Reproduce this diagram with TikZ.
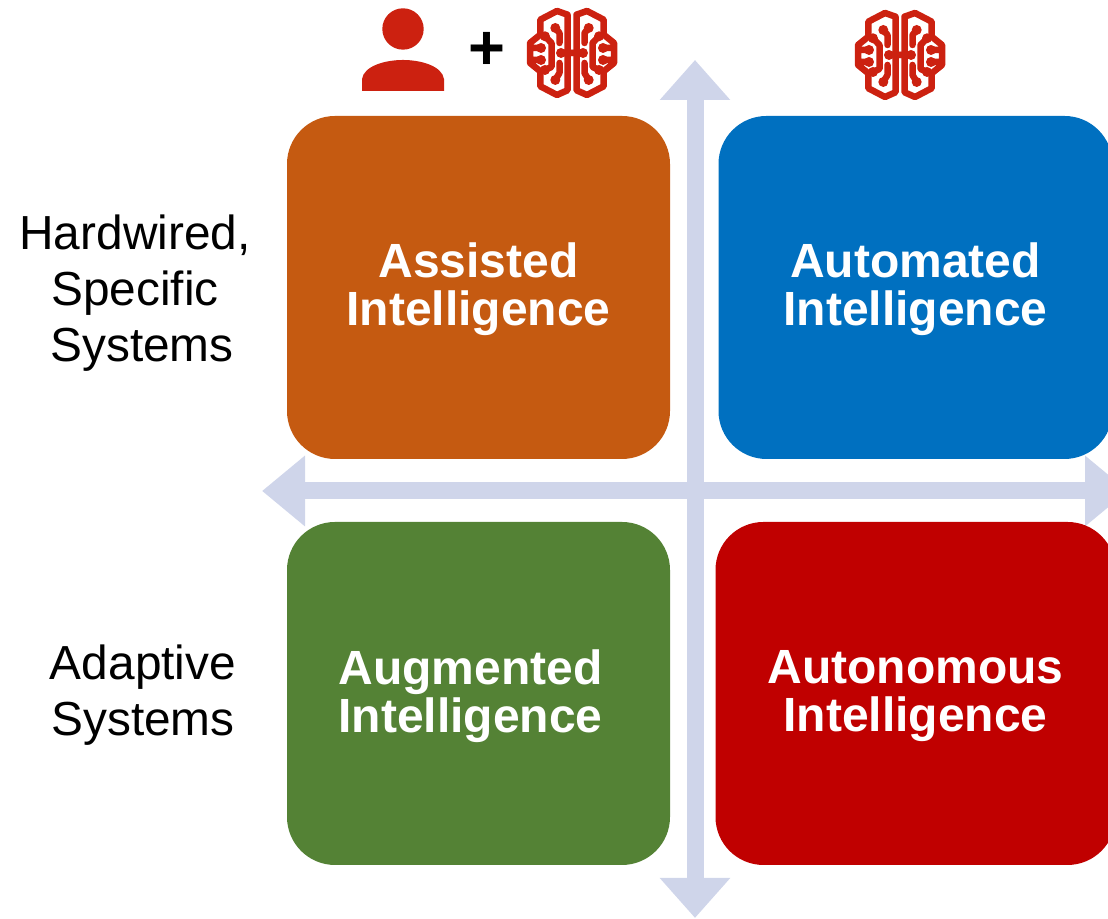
\documentclass[tikz,border=0pt]{standalone}
\usepackage{xcolor}
\usepackage{fontspec}
\setmainfont{Liberation Sans}
\usetikzlibrary{arrows.meta}
\definecolor{assistedcolor}{RGB}{197, 90, 17}
\definecolor{automatedcolor}{RGB}{0, 112, 192}
\definecolor{augmentedcolor}{RGB}{84, 130, 53}
\definecolor{autonomouscolor}{RGB}{192, 0, 0}
\definecolor{axiscolor}{RGB}{207, 213, 234}
\definecolor{iconcolor}{RGB}{204, 33, 16}
\tikzset{
    quadbox/.style={rounded corners=0.48cm, minimum width=3.83cm, minimum height=3.43cm},
    quadtext/.style={align=center, text=white, font=\fontsize{13.66pt}{13.66pt}\selectfont\bfseries},
    sidetext/.style={align=center, font=\fontsize{13.6pt}{15.9pt}\selectfont},
    axisline/.style={{Triangle[length=#1,width=0.68cm]}-{Triangle[length=#1,width=0.68cm]}, line width=0.17cm, axiscolor},
    brainhalf/.pic={
        \draw[iconcolor, line width=0.065cm, line join=round, line cap=round]
            (0.045,0.383) -- (0.15,0.42) -- (0.317,0.333) -- (0.317,0.183) -- (0.42,0.1) -- (0.42,-0.1) -- (0.317,-0.183) -- (0.317,-0.333) -- (0.15,-0.42) -- (0.045,-0.373) -- cycle
            (0,0) -- (0.11,0)
            (0.167,0.25) -- (0.125,0.2) -- (0.125,0.1)
            (0.27,0.167) -- (0.205,0.1) -- (0.205,-0.14) -- (0.27,-0.17)
            (0.167,-0.27) -- (0.125,-0.2) -- (0.125,-0.1)
            (0.42,0.05) -- (0.31,0.05)
            (0.42,-0.07) -- (0.31,-0.07);
        \foreach \dotx/\doty in {0.11/0, 0.167/0.25, 0.167/-0.27, 0.27/0.167, 0.27/-0.17, 0.31/0.05, 0.31/-0.07}
            \fill[iconcolor] (\dotx,\doty) circle (0.05);
    },
    brainicon/.pic={
        \pic at (0,0) {brainhalf};
        \pic[xscale=-1] at (0,0) {brainhalf};
    }
}

\begin{document}
\begin{tikzpicture}
    \path[use as bounding box, clip] (0,0) rectangle (11.08,9.19);

    % Axes
    \coordinate (axistop) at (6.95,8.59);
    \coordinate (axisbottom) at (6.95,0.01);
    \coordinate (axisleft) at (2.62,4.28);
    \coordinate (axisright) at (11.28,4.28);
    \draw[axisline=0.4cm] (axistop) -- (axisbottom);
    \draw[axisline=0.43cm] (axisleft) -- (axisright);

    % Quadrants
    \node[quadbox, fill=assistedcolor] (assisted) at (4.785,6.315) {};
    \node[quadbox, fill=automatedcolor, minimum width=3.94cm] (automated) at (9.155,6.315) {};
    \node[quadbox, fill=augmentedcolor] (augmented) at (4.785,2.255) {};
    \node[quadbox, fill=autonomouscolor, minimum width=4.0cm] (autonomous) at (9.155,2.255) {};

    \node[quadtext] (assistedtext) at ([yshift=-0.02cm]assisted.center) {Assisted\\Intelligence};
    \node[quadtext] (automatedtext) at ([yshift=-0.02cm]automated.center) {Automated\\Intelligence};
    \node[quadtext] (augmentedtext) at ([xshift=-0.08cm,yshift=-0.025cm]augmented.center) {Augmented\\Intelligence};
    \node[quadtext] (autonomoustext) at ([yshift=-0.025cm]autonomous.center) {Autonomous\\Intelligence};

    % Row labels
    \node[sidetext] (hardwired) at (1.35,6.26) {Hardwired,\\Specific\\\hspace*{0.14cm}Systems};
    \node[sidetext] (adaptive) at (1.43,2.24) {Adaptive\\Systems};

    % Person + brain
    \fill[iconcolor] (4.03,8.9) circle (0.207);
    \fill[iconcolor] (3.62,8.28) -- (3.62,8.4) .. controls (3.64,8.53) and (3.85,8.59) .. (4.03,8.59) .. controls (4.21,8.59) and (4.42,8.53) .. (4.44,8.4) -- (4.44,8.28) -- cycle;
    \node[font=\fontsize{18pt}{18pt}\selectfont\bfseries] (plus) at (4.87,8.68) {+};
    \pic at (5.72,8.66) {brainicon};

    % Brain alone
    \pic at (9,8.64) {brainicon};
\end{tikzpicture}
\end{document}
